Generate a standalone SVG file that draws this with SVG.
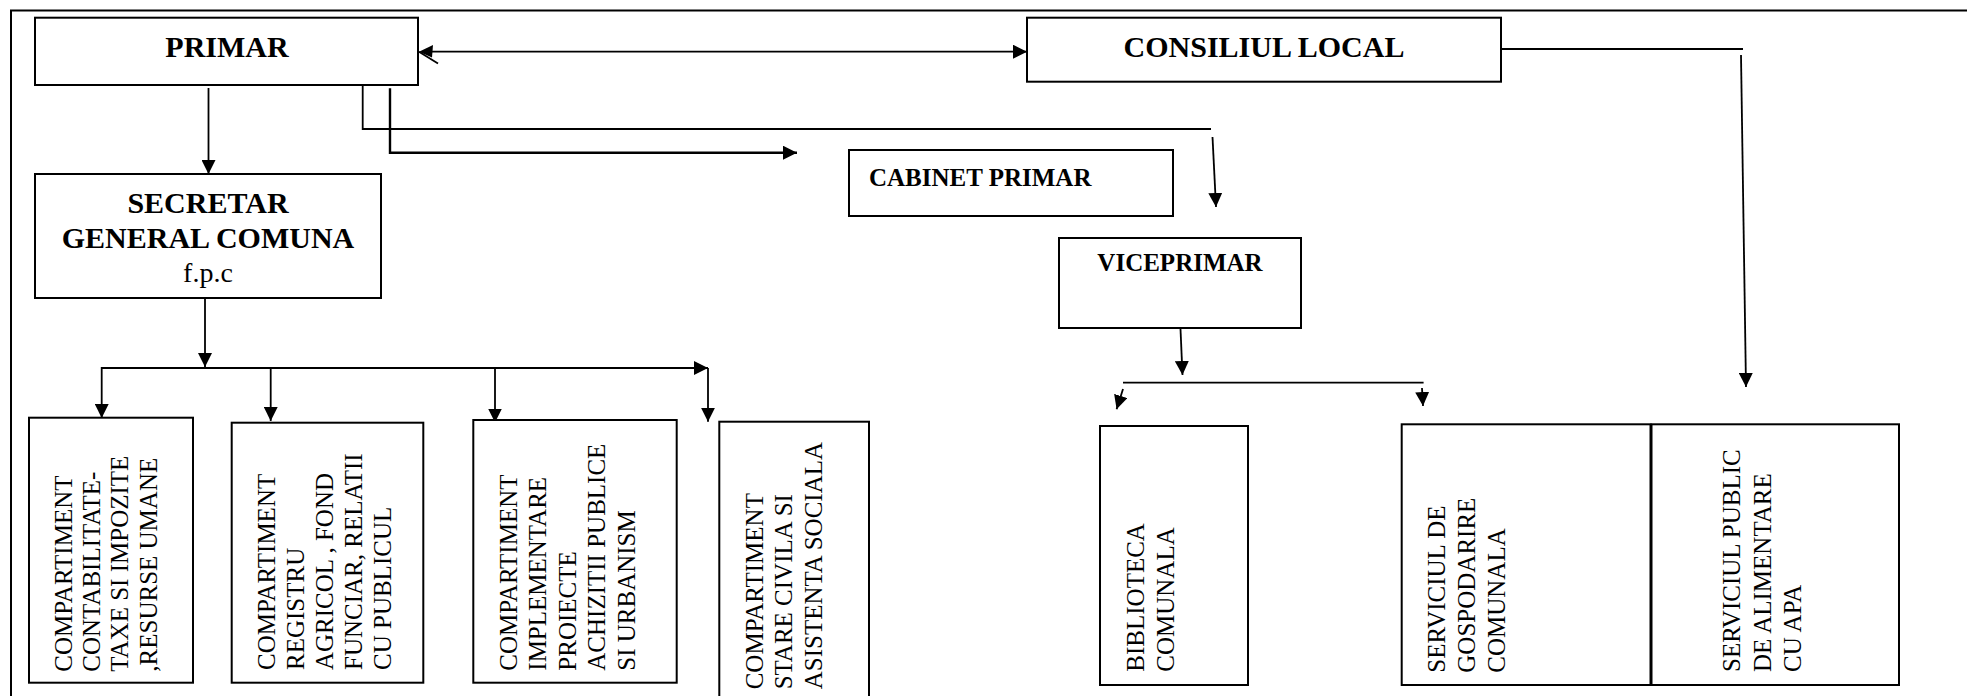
<svg xmlns="http://www.w3.org/2000/svg" width="1967" height="696" viewBox="0 0 1967 696">
<style>
  .box { fill: #ffffff; stroke: #000000; stroke-width: 2; }
  .ln { fill: none; stroke: #000000; stroke-width: 1.8; }
  .ln2 { fill: none; stroke: #000000; stroke-width: 2.4; }
  .hd { font-family: "Liberation Serif", "Times New Roman", serif; font-weight: bold; fill: #000000; }
  .rg { font-family: "Liberation Serif", "Times New Roman", serif; font-weight: normal; fill: #000000; }
  .vt { font-family: "Liberation Serif", "Times New Roman", serif; font-size: 25px; fill: #000000; }
</style>
<defs>
  <marker id="arr" markerUnits="userSpaceOnUse" markerWidth="14" markerHeight="14" refX="14" refY="7" orient="auto" viewBox="0 0 14 14">
    <path d="M0,0 L14,7 L0,14 z" fill="#000000"/>
  </marker>
</defs>
<rect width="1967" height="696" fill="#ffffff"/>
<rect x="11" y="10.5" width="2000" height="720" fill="none" stroke="#000000" stroke-width="2"/>

<g id="connectors">
  <line class="ln" x1="432" y1="51.7" x2="1027" y2="51.7" marker-end="url(#arr)"/>
  <polygon points="419,51.7 433,45 432,57.5" fill="#000000"/>
  <line class="ln" x1="419" y1="51.7" x2="438" y2="63.5"/>
  <line class="ln" x1="208.5" y1="88" x2="208.5" y2="174" marker-end="url(#arr)"/>
  <polyline class="ln" points="362.7,80 362.7,129 1211,129"/>
  <line class="ln" x1="1212.5" y1="137" x2="1216" y2="207" marker-end="url(#arr)"/>
  <polyline class="ln2" points="390,88.3 390,152.7 797,152.7" marker-end="url(#arr)"/>
  <line class="ln" x1="205" y1="298" x2="205" y2="367" marker-end="url(#arr)"/>
  <line class="ln" x1="101.7" y1="368" x2="708" y2="368" marker-end="url(#arr)"/>
  <line class="ln" x1="101.7" y1="367" x2="101.7" y2="418" marker-end="url(#arr)"/>
  <line class="ln" x1="270.7" y1="368" x2="270.7" y2="421" marker-end="url(#arr)"/>
  <line class="ln" x1="495" y1="368" x2="495" y2="422.5" marker-end="url(#arr)"/>
  <line class="ln" x1="708" y1="368" x2="708" y2="421.7" marker-end="url(#arr)"/>
  <line class="ln" x1="1180.5" y1="329" x2="1182.5" y2="375" marker-end="url(#arr)"/>
  <line class="ln" x1="1123" y1="382.7" x2="1423.6" y2="382.7"/>
  <line class="ln" x1="1123" y1="389" x2="1116.6" y2="409.3" marker-end="url(#arr)"/>
  <line class="ln" x1="1422" y1="388" x2="1423" y2="406" marker-end="url(#arr)"/>
  <line class="ln" x1="1501" y1="49" x2="1743" y2="49"/>
  <line class="ln" x1="1741" y1="55" x2="1746" y2="387" marker-end="url(#arr)"/>
</g>

<g id="primar">
  <rect class="box" x="35" y="17.7" width="383" height="67.3"/>
  <text class="hd" x="227" y="57" font-size="30" text-anchor="middle">PRIMAR</text>
</g>

<g id="consiliul-local">
  <rect class="box" x="1027" y="17.7" width="474" height="64"/>
  <text class="hd" x="1264" y="57" font-size="30" text-anchor="middle">CONSILIUL LOCAL</text>
</g>

<g id="secretar">
  <rect class="box" x="35" y="174" width="346" height="124"/>
  <text class="hd" x="208" y="213" font-size="30" text-anchor="middle">SECRETAR</text>
  <text class="hd" x="208" y="248" font-size="30" text-anchor="middle">GENERAL COMUNA</text>
  <text class="rg" x="208" y="282" font-size="28" text-anchor="middle">f.p.c</text>
</g>

<g id="cabinet-primar">
  <rect class="box" x="849" y="150" width="324" height="66"/>
  <text class="hd" x="869" y="186" font-size="25">CABINET PRIMAR</text>
</g>

<g id="viceprimar">
  <rect class="box" x="1059" y="238" width="242" height="90"/>
  <text class="hd" x="1180" y="271" font-size="25" text-anchor="middle">VICEPRIMAR</text>
</g>

<g id="comp-contabilitate">
  <rect class="box" x="29" y="417.7" width="164" height="265"/>
  <text class="vt" transform="translate(71.7,671.7) rotate(-90)">
    <tspan x="0" y="0">COMPARTIMENT</tspan>
    <tspan x="0" dy="28.4">CONTABILITATE-</tspan>
    <tspan x="0" dy="28.4">TAXE SI IMPOZITE</tspan>
    <tspan x="0" dy="28.4">,RESURSE UMANE</tspan>
  </text>
</g>

<g id="comp-registru">
  <rect class="box" x="231.7" y="422.7" width="191.6" height="260"/>
  <text class="vt" transform="translate(275,670) rotate(-90)">
    <tspan x="0" y="0">COMPARTIMENT</tspan>
    <tspan x="0" dy="29">REGISTRU</tspan>
    <tspan x="0" dy="29">AGRICOL , FOND</tspan>
    <tspan x="0" dy="29">FUNCIAR, RELATII</tspan>
    <tspan x="0" dy="29">CU PUBLICUL</tspan>
  </text>
</g>

<g id="comp-implementare">
  <rect class="box" x="473.3" y="420" width="203.4" height="262.7"/>
  <text class="vt" transform="translate(516.7,670.7) rotate(-90)">
    <tspan x="0" y="0">COMPARTIMENT</tspan>
    <tspan x="0" dy="29.5">IMPLEMENTARE</tspan>
    <tspan x="0" dy="29.5">PROIECTE</tspan>
    <tspan x="0" dy="29.5">ACHIZITII PUBLICE</tspan>
    <tspan x="0" dy="29.5">SI URBANISM</tspan>
  </text>
</g>

<g id="comp-stare-civila">
  <rect class="box" x="719.3" y="421.7" width="149.7" height="300"/>
  <text class="vt" transform="translate(763.3,689.3) rotate(-90)">
    <tspan x="0" y="0">COMPARTIMENT</tspan>
    <tspan x="0" dy="29.2">STARE CIVILA SI</tspan>
    <tspan x="0" dy="29.2">ASISTENTA SOCIALA</tspan>
  </text>
</g>

<g id="biblioteca">
  <rect class="box" x="1100" y="426" width="148" height="259"/>
  <text class="vt" transform="translate(1144.2,671.7) rotate(-90)">
    <tspan x="0" y="0">BIBLIOTECA</tspan>
    <tspan x="0" dy="29.8">COMUNALA</tspan>
  </text>
</g>

<g id="serviciul-gospodarire">
  <rect class="box" x="1401.7" y="424.3" width="248.8" height="260.7"/>
  <text class="vt" transform="translate(1444.6,672.7) rotate(-90)">
    <tspan x="0" y="0">SERVICIUL DE</tspan>
    <tspan x="0" dy="30">GOSPODARIRE</tspan>
    <tspan x="0" dy="30">COMUNALA</tspan>
  </text>
</g>

<g id="serviciul-apa">
  <rect class="box" x="1651.5" y="424.3" width="247.5" height="260.7"/>
  <text class="vt" transform="translate(1740,672) rotate(-90)">
    <tspan x="0" y="0">SERVICIUL PUBLIC</tspan>
    <tspan x="0" dy="30.7">DE ALIMENTARE</tspan>
    <tspan x="0" dy="30.7">CU APA</tspan>
  </text>
</g>
</svg>
